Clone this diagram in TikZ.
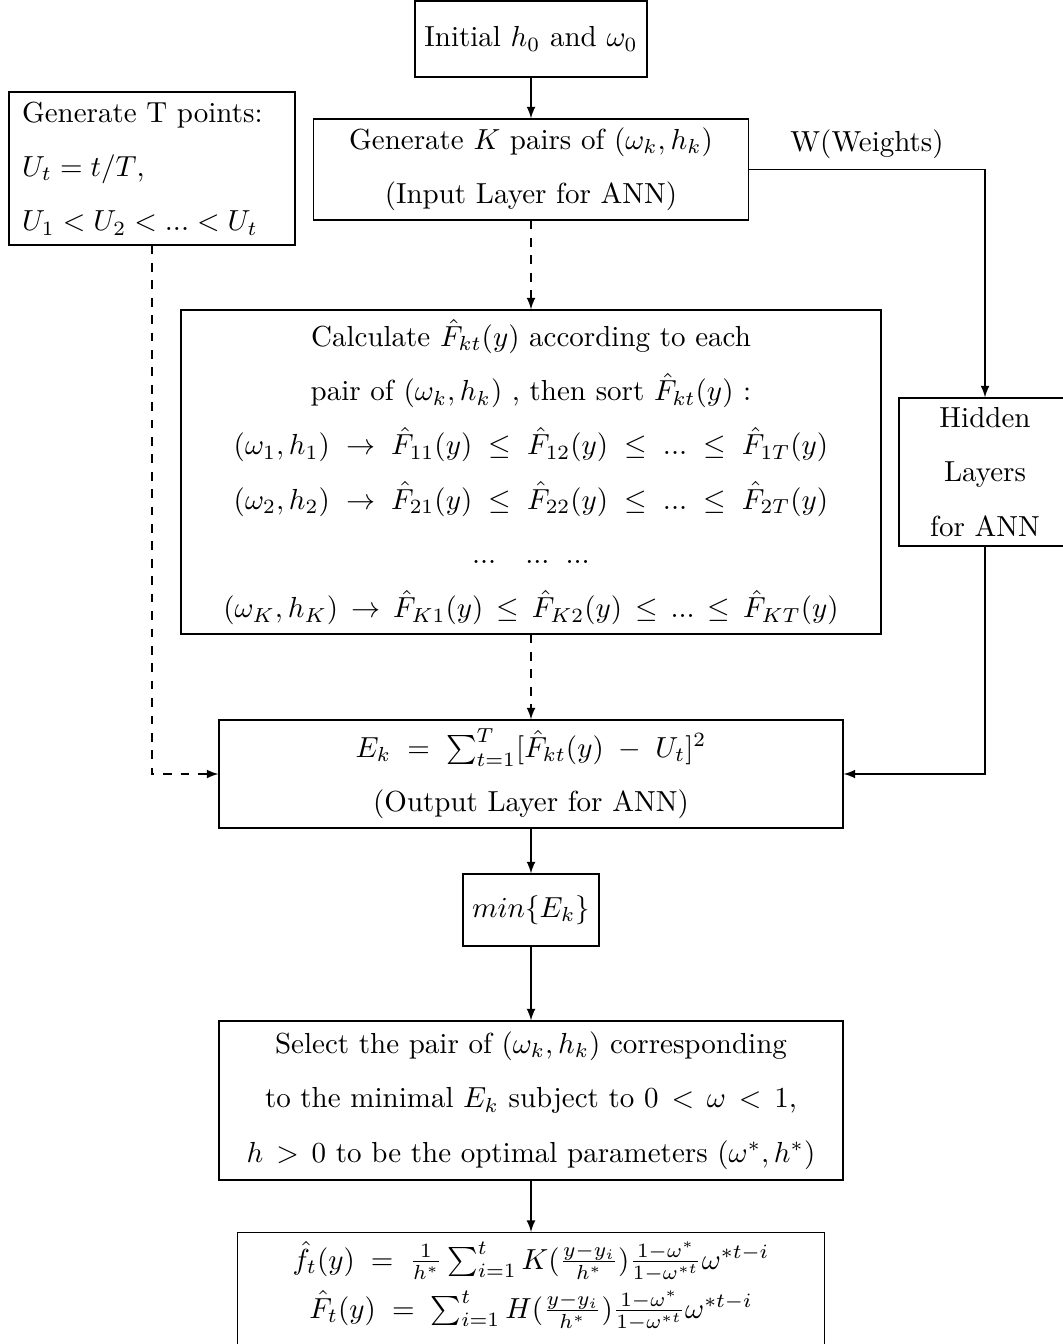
\documentclass[tikz,border=0pt]{standalone}
\usepackage{amsmath}
\newcommand{\pxu}{0.3447pt}

\begin{document}
\begin{tikzpicture}[x=\pxu, y=-\pxu,
  box/.style={rectangle, draw=black, align=center, inner sep=0pt, font=\fontsize{10}{18.7}\selectfont}]

\useasboundingbox (0,0) rectangle (1062,1344);

\node [box, minimum width=232*\pxu, minimum height=76*\pxu] (init) at (531, 39) {Initial $h_0$ and $\omega_0$};
\node [box, minimum width=435*\pxu, minimum height=101*\pxu] (gen) at (531, 169.5) {Generate $K$ pairs of $(\omega_k,h_k)$\\ (Input Layer for ANN)};
\node [box, align=left, inner xsep=13*\pxu, text width=260*\pxu, minimum height=153*\pxu] (tpts) at (152, 168.5) {Generate T points:\\ $U_t=t/T$,\\ $U_1<U_2<...<U_t$};
\node [box, minimum width=700*\pxu, minimum height=324*\pxu] (calc) at (531, 472) {Calculate $\hat{F}_{kt}(y)$ according to each\\
  pair of $(\omega_k,h_k)$ , then sort $\hat{F}_{kt}(y)$ :\\
  $(\omega_1,h_1)\;\rightarrow\;\hat{F}_{11}(y)\;\leq\;\hat{F}_{12}(y)\;\leq\;...\;\leq\;\hat{F}_{1T}(y)$\\
  $(\omega_2,h_2)\;\rightarrow\;\hat{F}_{21}(y)\;\leq\;\hat{F}_{22}(y)\;\leq\;...\;\leq\;\hat{F}_{2T}(y)$\\
  $...\quad...\;\;...$\\
  $(\omega_K,h_K)\,\rightarrow\,\hat{F}_{K1}(y)\,\leq\,\hat{F}_{K2}(y)\,\leq\,...\,\leq\,\hat{F}_{KT}(y)$};
\node [box, minimum width=172*\pxu, minimum height=148*\pxu] (hidden) at (985, 472) {Hidden\\ Layers\\ for ANN};
\node [box, minimum width=624*\pxu, minimum height=108*\pxu] (Ek) at (531, 774) {$E_k\;=\;\sum_{t=1}^{T}[\hat{F}_{kt}(y)\;-\;U_t]^2$\\ (Output Layer for ANN)};
\node [box, minimum width=136*\pxu, minimum height=72*\pxu] (min) at (531, 910) {$min\{E_k\}$};
\node [box, minimum width=624*\pxu, minimum height=159*\pxu] (select) at (531, 1100.5) {Select the pair of $(\omega_k,h_k)$ corresponding\\
  to the minimal $E_k$ subject to $0\,<\,\omega\,<\,1$,\\
  $h\,>\,0$ to be the optimal parameters $(\omega^*,h^*)$};
\node [box, anchor=north, minimum width=587*\pxu, inner ysep=3pt, text depth=40pt, font=\fontsize{10}{16.9}\selectfont] (final) at (531, 1232) {$\hat{f}_t(y)\;=\;\frac{1}{h^*}\sum_{i=1}^{t}K(\frac{y-y_i}{h^*})\frac{1-\omega^*}{1-\omega^{*t}}\omega^{*t-i}$\\
  $\hat{F}_t(y)\;=\;\sum_{i=1}^{t}H(\frac{y-y_i}{h^*})\frac{1-\omega^*}{1-\omega^{*t}}\omega^{*t-i}$};

\draw [-latex, draw=black] (init) to (gen);
\draw [-latex, dashed, draw=black] (gen) to (calc);
\draw [-latex, dashed, draw=black] (calc) to (Ek);
\draw [-latex, dashed, draw=black] (tpts) |- (Ek);
\draw [-latex, draw=black] (gen) -| node [pos=0.25, above, font=\fontsize{10}{18.7}\selectfont] {W(Weights)} (hidden);
\draw [-latex, draw=black] (hidden) |- (Ek);
\draw [-latex, draw=black] (Ek) to (min);
\draw [-latex, draw=black] (min) to (select);
\draw [-latex, draw=black] (select) to (final);

\end{tikzpicture}
\end{document}
